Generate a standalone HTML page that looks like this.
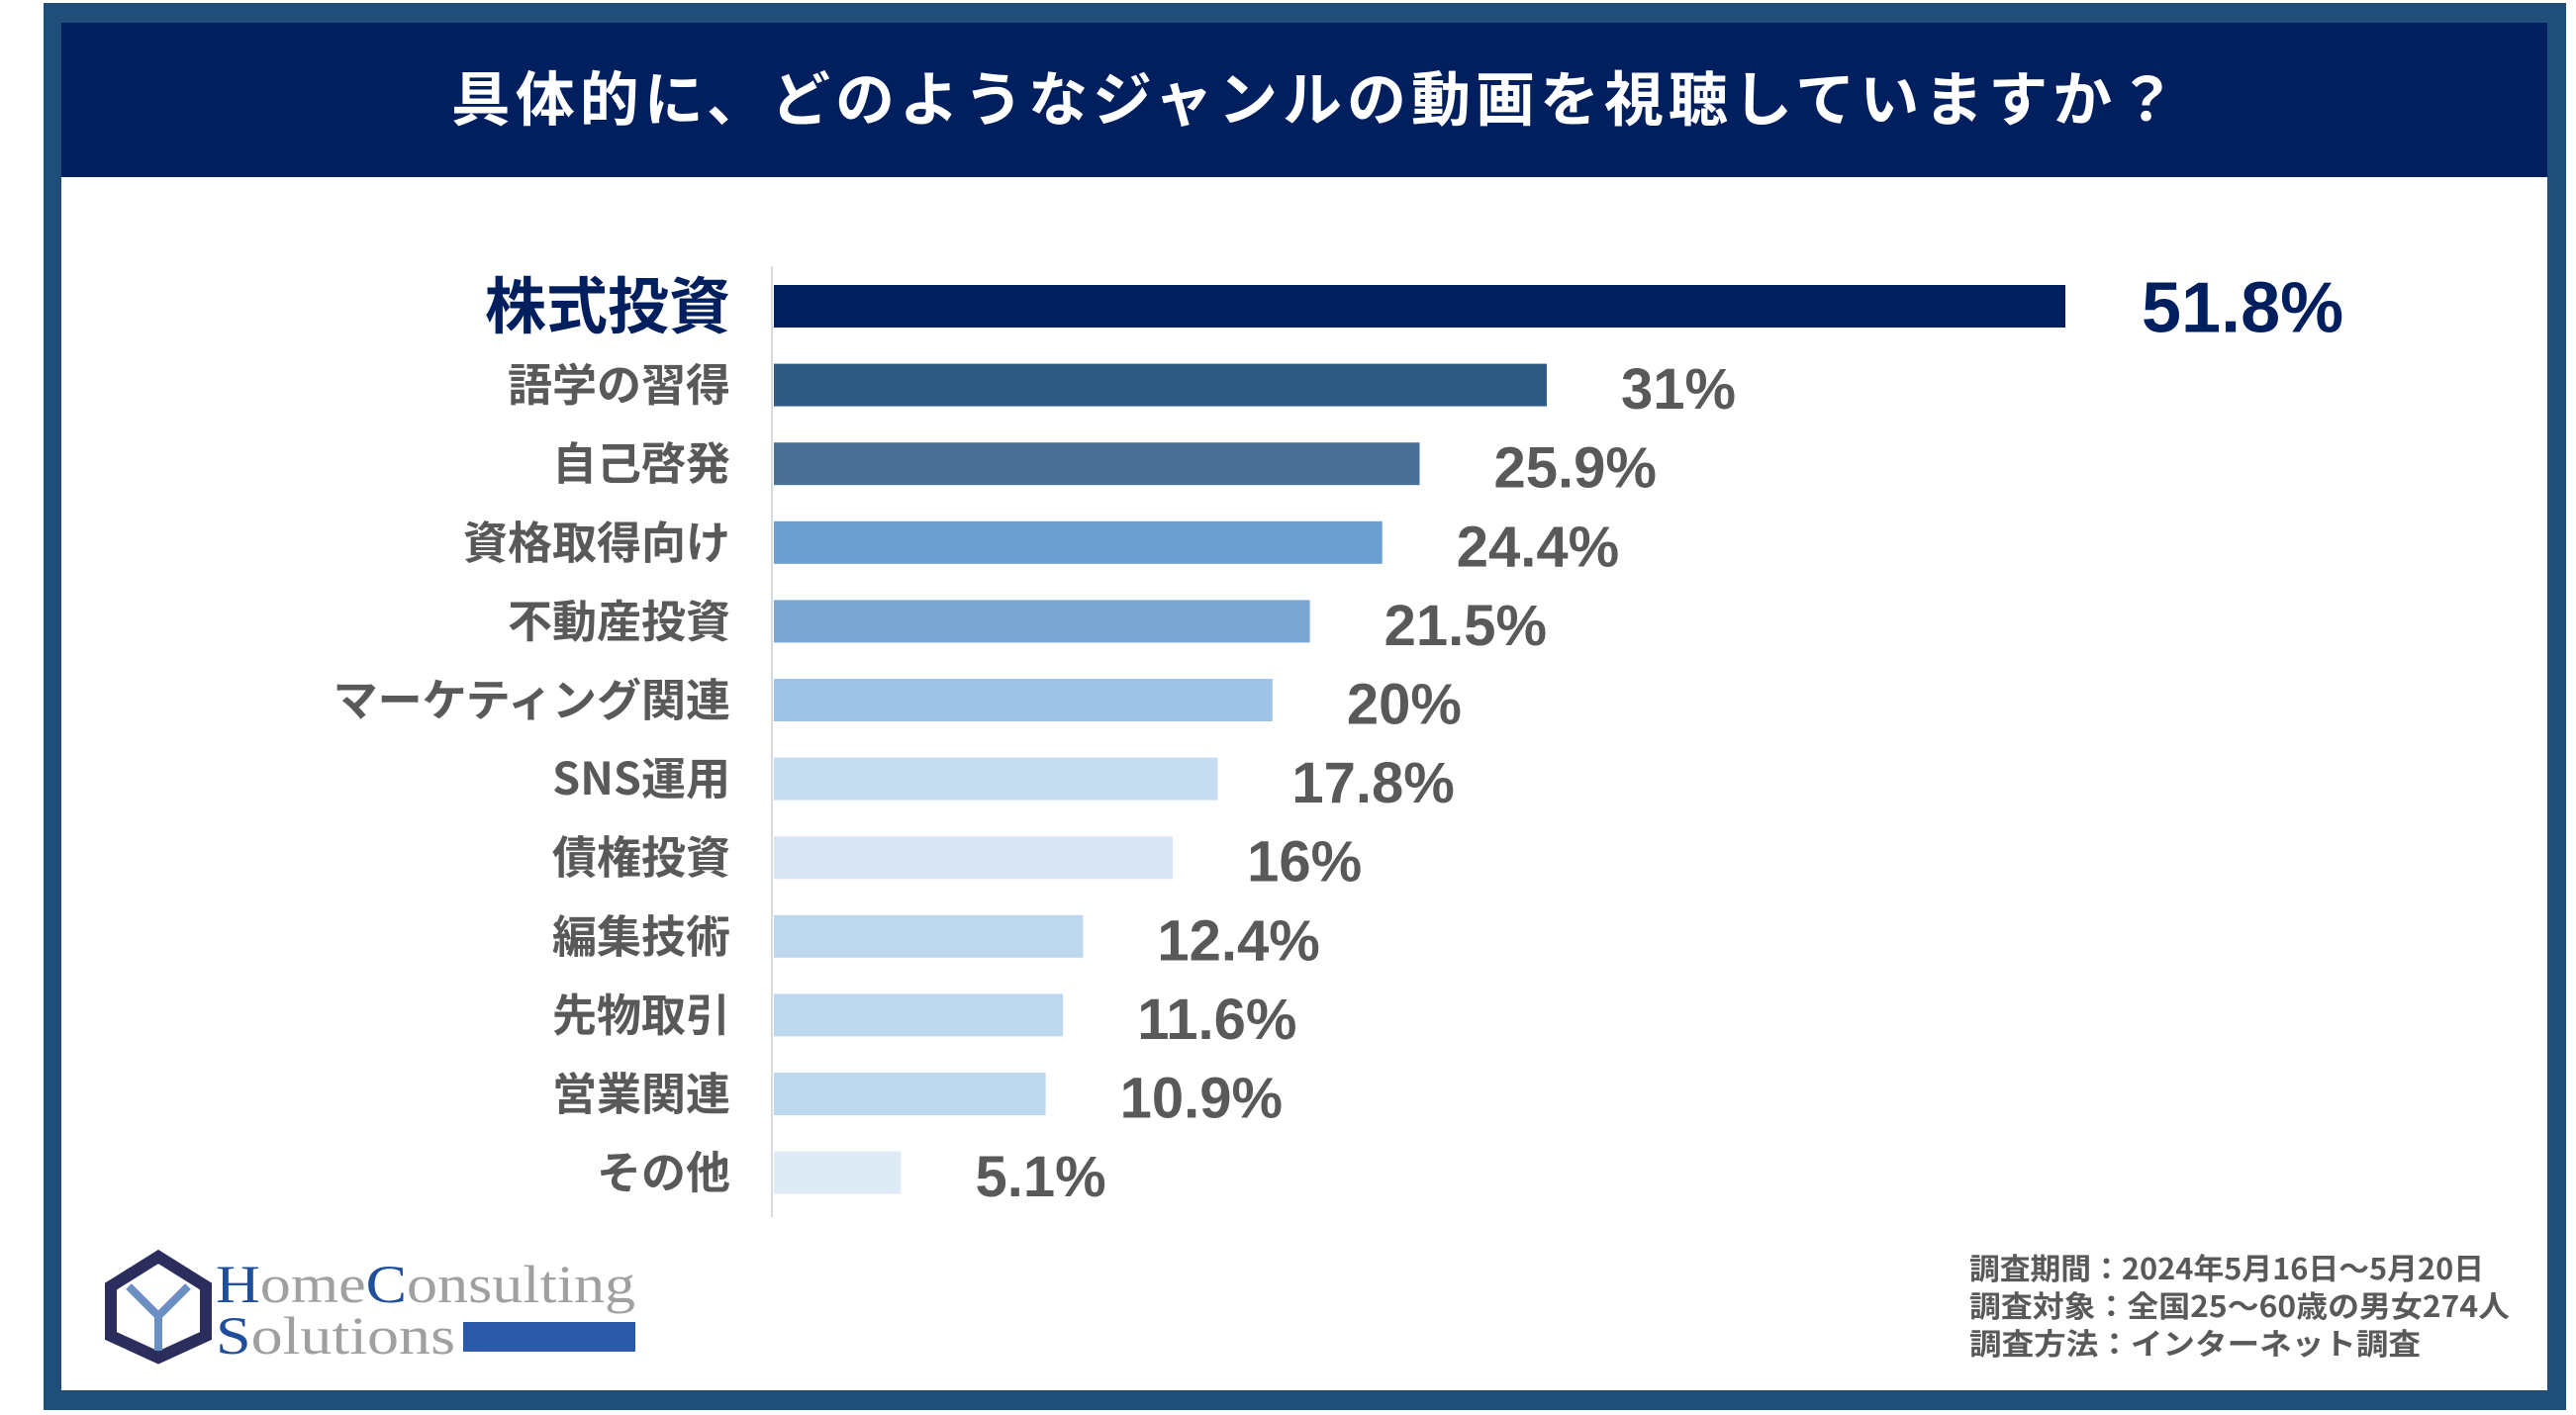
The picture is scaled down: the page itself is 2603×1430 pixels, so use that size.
<!DOCTYPE html>
<html><head><meta charset="utf-8"><style>
body{margin:0;width:2603px;height:1425px;background:#fff;overflow:hidden;font-family:"Liberation Sans","Noto Sans CJK JP",sans-serif}
</style></head><body>
<svg width="2603" height="1425" viewBox="0 0 2603 1425" xmlns="http://www.w3.org/2000/svg">
<rect x="44" y="3" width="2549" height="1422" fill="#1f4e79"/>
<rect x="62" y="179" width="2512" height="1226" fill="#fff"/>
<rect x="62" y="23" width="2512" height="156" fill="#001f5f"/>
<text x="1330" y="122" text-anchor="middle" fill="#fff" font-size="60" font-weight="bold" font-family="'Noto Sans CJK JP',sans-serif" letter-spacing="5">具体的に、どのようなジャンルの動画を視聴していますか？</text>
<line x1="780" y1="269" x2="780" y2="1230" stroke="#d9d9d9" stroke-width="2"/>
<g id="bars"></g>
<g>
<path d="M160 1270 L112 1300 L112 1350 L160 1372 L208 1350 L208 1300 Z" fill="none" stroke="#2b2d5c" stroke-width="12"/>
<path d="M130 1300 L160 1330 L190 1300 M160 1330 L160 1365" fill="none" stroke="#6b8fc2" stroke-width="8"/>
<text x="218" y="1316" font-family="'Liberation Serif',serif" font-size="54" fill="#a0a0a0" textLength="424" lengthAdjust="spacingAndGlyphs"><tspan fill="#1f4e9a">H</tspan>ome<tspan fill="#1f4e9a">C</tspan>onsulting</text>
<text x="218" y="1368" font-family="'Liberation Serif',serif" font-size="54" fill="#a0a0a0" textLength="242" lengthAdjust="spacingAndGlyphs"><tspan fill="#1f4e9a">S</tspan>olutions</text>
<rect x="468" y="1336" width="174" height="30" fill="#2a5aa8"/>
</g>
<g font-family="'Noto Sans CJK JP',sans-serif" font-size="30" font-weight="bold" fill="#595959">
<text x="1990" y="1293" textLength="520" lengthAdjust="spacingAndGlyphs">調査期間：2024年5月16日～5月20日</text>
<text x="1990" y="1331" textLength="546" lengthAdjust="spacingAndGlyphs">調査対象：全国25～60歳の男女274人</text>
<text x="1990" y="1369" textLength="456" lengthAdjust="spacingAndGlyphs">調査方法：インターネット調査</text>
</g>
</svg>
<script>
const categories=["株式投資","語学の習得","自己啓発","資格取得向け","不動産投資","マーケティング関連","SNS運用","債権投資","編集技術","先物取引","営業関連","その他"];
const values=[51.8,31,25.9,24.4,21.5,20,17.8,16,12.4,11.6,10.9,5.1];
const valueLabels=["51.8%","31%","25.9%","24.4%","21.5%","20%","17.8%","16%","12.4%","11.6%","10.9%","5.1%"];
const colors=["#001f5f","#2f5a84","#4a6f96","#6a9fcf","#7aa7d2","#9dc3e6","#c5dcf1","#d8e6f4","#bdd7ee","#bdd7ee","#bdd7ee","#deebf7"];
const NS="http://www.w3.org/2000/svg";
const x0=782, ppu=1305/51.8, y0=288, pitch=79.6, bh=43;
const xs=v=>x0+v*ppu, ys=i=>y0+i*pitch;
const g=document.getElementById('bars');
categories.forEach((c,i)=>{
  const first=i===0;
  const r=document.createElementNS(NS,'rect');
  r.setAttribute('x',x0);r.setAttribute('y',ys(i));r.setAttribute('width',xs(values[i])-x0);r.setAttribute('height',bh);r.setAttribute('fill',colors[i]);
  
  
  g.appendChild(r);
  const t=document.createElementNS(NS,'text');
  t.setAttribute('x',738);t.setAttribute('y',ys(i)+bh/2+(first?22:16));t.setAttribute('text-anchor','end');
  t.setAttribute('font-family',"'Noto Sans CJK JP',sans-serif");t.setAttribute('font-weight','bold');
  t.setAttribute('font-size',first?62:45);t.setAttribute('fill',first?'#001f5f':'#595959');
  t.textContent=c;
  
  
  g.appendChild(t);
  const v=document.createElementNS(NS,'text');
  v.setAttribute('x',xs(values[i])+(first?77:75));v.setAttribute('y',ys(i)+bh/2+(first?26:24));
  v.setAttribute('font-family',"'Liberation Sans',sans-serif");v.setAttribute('font-weight','bold');
  v.setAttribute('font-size',first?72:58);v.setAttribute('fill',first?'#001f5f':'#595959');
  v.textContent=valueLabels[i];
  
  
  g.appendChild(v);
});
</script>
</body></html>
